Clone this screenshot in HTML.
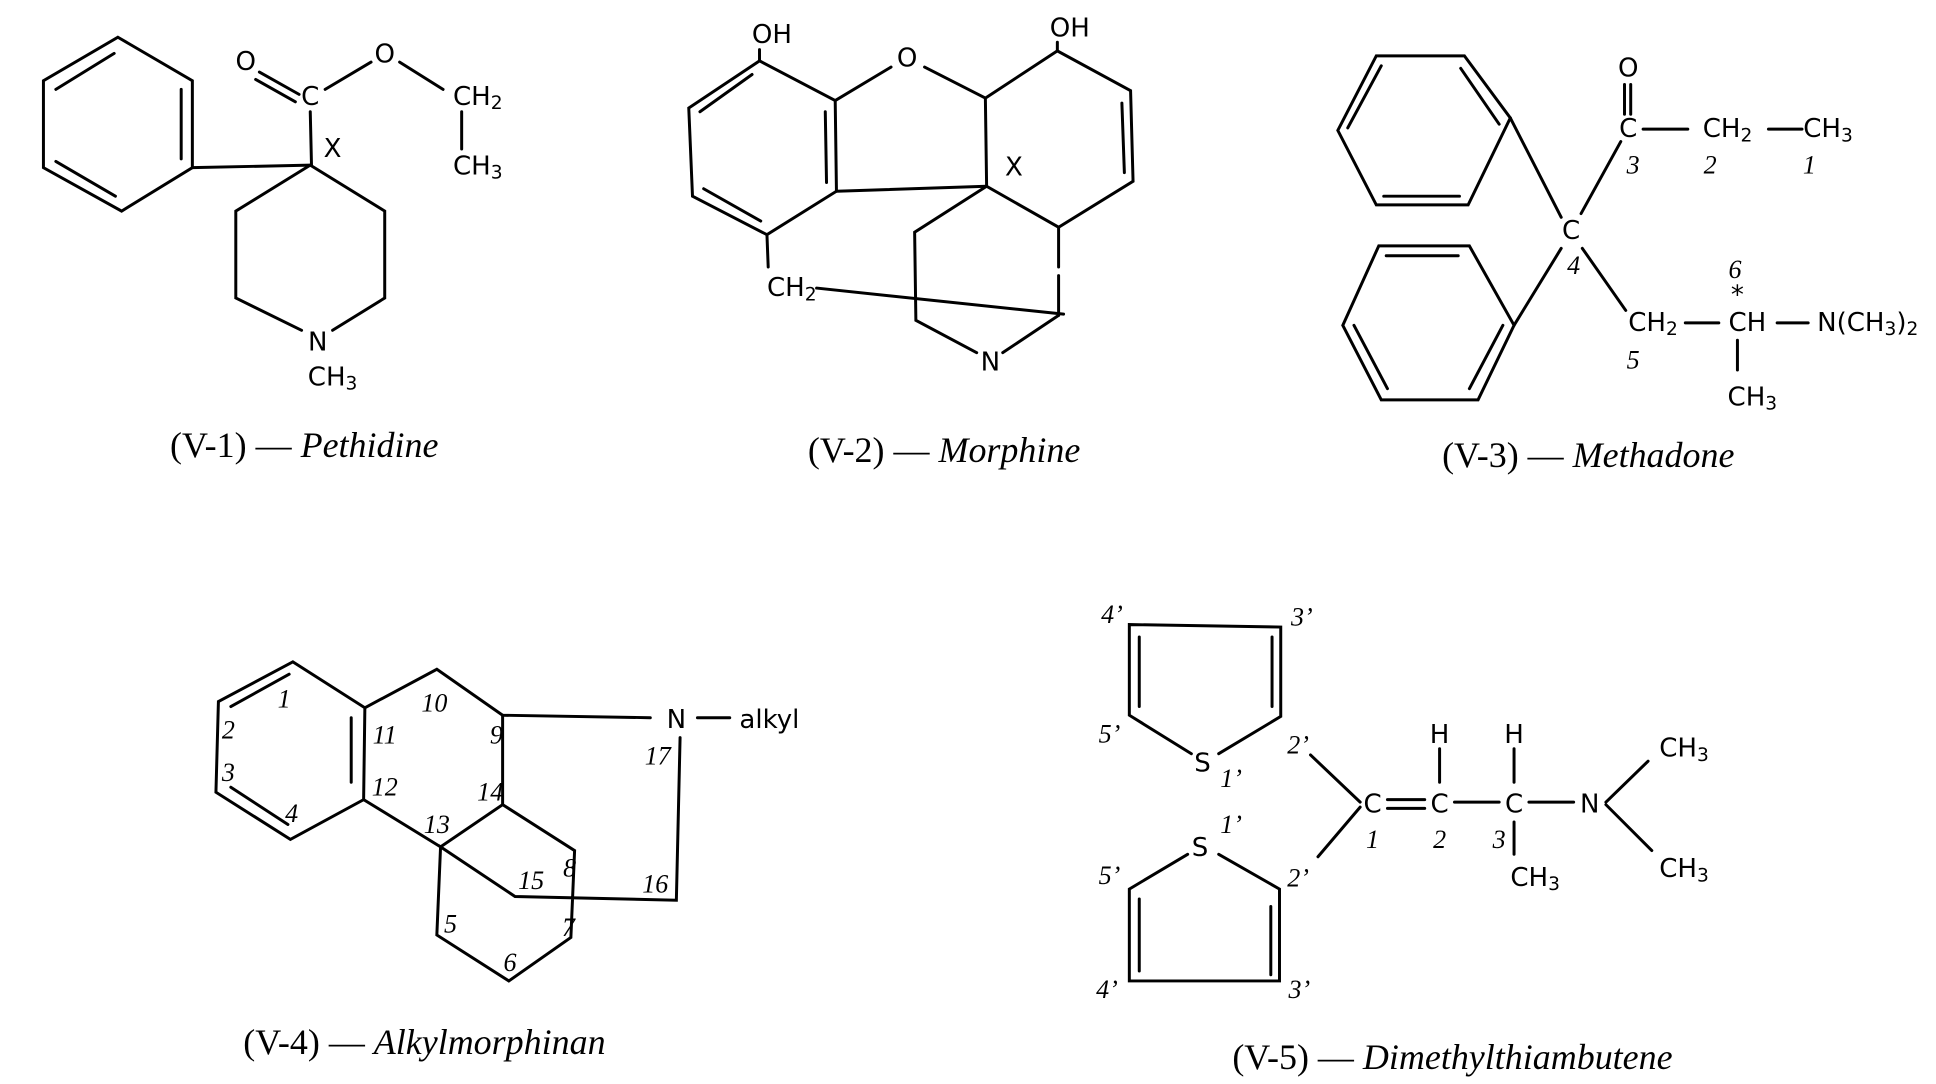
<!DOCTYPE html>
<html><head><meta charset="utf-8"><style>
html,body{margin:0;padding:0;background:#fff;}
svg{display:block}
.l{font-family:"DejaVu Sans","Liberation Sans",sans-serif;font-size:21px;fill:#000}
.n{font-family:"Liberation Serif",serif;font-style:italic;font-size:21px;fill:#000}
.c{font-family:"Liberation Serif",serif;font-size:29px;fill:#000}
.c tspan.i{font-style:italic}
</style></head><body>
<svg width="1936" height="1084" viewBox="0 0 1560 873" preserveAspectRatio="none" xmlns="http://www.w3.org/2000/svg">
<g stroke="#000" stroke-width="2.4" fill="none" stroke-linejoin="miter" stroke-linecap="round">
<!-- Pethidine -->
<polygon points="95,30 155,65 155,135 98,170 35,135 35,65"/>
<line x1="146" y1="72" x2="146" y2="128"/><line x1="45" y1="72" x2="92" y2="43"/><line x1="45" y1="130" x2="93" y2="158"/>
<line x1="155" y1="135" x2="250" y2="133"/>
<polyline points="250,133 310,170 310,240 268,266"/>
<polyline points="243,266 190,240 190,170 250,133"/>
<line x1="250" y1="90" x2="251" y2="133"/>
<line x1="209" y1="58" x2="241" y2="76"/><line x1="206" y1="64" x2="238" y2="82"/>
<line x1="262" y1="72" x2="299" y2="50"/>
<line x1="322" y1="50" x2="357" y2="72"/>
<line x1="372" y1="90" x2="372" y2="120"/>
<!-- Morphine -->
<polygon points="612,49 673,81 674,154 618,189 558,158 555,87"/>
<line x1="564" y1="90" x2="606" y2="60"/><line x1="567" y1="152" x2="613" y2="178"/><line x1="665" y1="90" x2="666" y2="147"/>
<line x1="612" y1="49" x2="612" y2="40"/>
<line x1="673" y1="81" x2="718" y2="54"/><line x1="745" y1="54" x2="794" y2="79"/>
<polyline points="794,79 852,41 911,73 913,146 853,183 795,150 794,79"/>
<line x1="852" y1="41" x2="852" y2="34"/>
<line x1="904" y1="83" x2="906" y2="139"/>
<line x1="674" y1="154" x2="795" y2="150"/>
<polyline points="795,150 737,187 738,258 787,284"/>
<line x1="808" y1="284" x2="853" y2="254"/>
<line x1="853" y1="183" x2="853" y2="215"/><line x1="853" y1="222" x2="853" y2="254"/>
<line x1="618" y1="189" x2="619" y2="215"/>
<line x1="658" y1="232" x2="857" y2="253"/>
<!-- Methadone -->
<polygon points="1109,45 1180,45 1217,95 1183,165 1109,165 1078,105"/>
<line x1="1086" y1="103" x2="1113" y2="53"/><line x1="1177" y1="55" x2="1208" y2="100"/><line x1="1115" y1="158" x2="1176" y2="158"/>
<line x1="1217" y1="95" x2="1258" y2="175"/><line x1="1274" y1="172" x2="1306" y2="114"/>
<polygon points="1111,198 1184,198 1220,262 1191,322 1113,322 1082,262"/>
<line x1="1117" y1="206" x2="1175" y2="206"/><line x1="1091" y1="262" x2="1118" y2="313"/><line x1="1211" y1="262" x2="1184" y2="313"/>
<line x1="1220" y1="262" x2="1258" y2="200"/><line x1="1275" y1="200" x2="1310" y2="250"/>
<line x1="1309" y1="68" x2="1309" y2="92"/><line x1="1314" y1="68" x2="1314" y2="92"/>
<line x1="1324" y1="104" x2="1360" y2="104"/><line x1="1425" y1="104" x2="1452" y2="104"/>
<line x1="1358" y1="260" x2="1385" y2="260"/><line x1="1432" y1="260" x2="1457" y2="260"/>
<line x1="1400" y1="274" x2="1400" y2="298"/>
<!-- Alkylmorphinan -->
<polygon points="236,533 294,570 293,644 234,676 174,638 176,565"/>
<line x1="186" y1="569" x2="233" y2="543"/><line x1="283" y1="578" x2="283" y2="630"/><line x1="186" y1="634" x2="232" y2="664"/>
<polyline points="294,570 352,539 405,576 524,578"/>
<line x1="405" y1="576" x2="405" y2="648"/>
<polyline points="293,644 355,682 405,648 463,685 460,755 410,790 352,753 355,682 415,722 545,725 548,594"/>
<line x1="562" y1="578" x2="588" y2="578"/>
<!-- Thiambutene -->
<polyline points="960,607 910,576 910,503 1032,505 1032,577 982,607"/>
<line x1="918" y1="513" x2="918" y2="569"/><line x1="1025" y1="513" x2="1025" y2="569"/>
<polyline points="957,688 910,716 910,790 1031,790 1031,716 982,688"/>
<line x1="918" y1="724" x2="918" y2="782"/><line x1="1024" y1="730" x2="1024" y2="785"/>
<line x1="1056" y1="608" x2="1096" y2="646"/><line x1="1096" y1="650" x2="1062" y2="690"/>
<line x1="1118" y1="644" x2="1148" y2="644"/><line x1="1118" y1="651" x2="1148" y2="651"/>
<line x1="1160" y1="603" x2="1160" y2="630"/><line x1="1172" y1="646" x2="1208" y2="646"/>
<line x1="1220" y1="603" x2="1220" y2="630"/><line x1="1232" y1="646" x2="1268" y2="646"/>
<line x1="1220" y1="662" x2="1220" y2="688"/>
<line x1="1294" y1="646" x2="1328" y2="613"/><line x1="1294" y1="648" x2="1331" y2="685"/>
</g>
<g text-anchor="middle" dominant-baseline="central">
<text class="l" x="198" y="50">O</text>
<text class="l" x="250" y="78">C</text>
<text class="l" x="310" y="44">O</text>
<text class="l" x="268" y="120">X</text>
<text class="l" x="256" y="276">N</text>
<text class="l" x="385" y="78">CH<tspan font-size="15" dy="5">2</tspan></text>
<text class="l" x="385" y="134">CH<tspan font-size="15" dy="5">3</tspan></text>
<text class="l" x="268" y="304">CH<tspan font-size="15" dy="5">3</tspan></text>
<text class="l" x="622" y="28">OH</text>
<text class="l" x="862" y="23">OH</text>
<text class="l" x="731" y="47">O</text>
<text class="l" x="817" y="135">X</text>
<text class="l" x="638" y="232">CH<tspan font-size="15" dy="5">2</tspan></text>
<text class="l" x="798" y="292">N</text>
<text class="l" x="1312" y="55">O</text>
<text class="l" x="1312" y="104">C</text>
<text class="l" x="1392" y="104">CH<tspan font-size="15" dy="5">2</tspan></text>
<text class="l" x="1473" y="104">CH<tspan font-size="15" dy="5">3</tspan></text>
<text class="l" x="1266" y="186">C</text>
<text class="l" x="1332" y="260">CH<tspan font-size="15" dy="5">2</tspan></text>
<text class="l" x="1408" y="260">CH</text>
<text class="l" x="1505" y="260">N(CH<tspan font-size="15" dy="5">3</tspan><tspan dy="-5">)</tspan><tspan font-size="15" dy="5">2</tspan></text>
<text class="l" x="1412" y="320">CH<tspan font-size="15" dy="5">3</tspan></text>
<text class="l" x="1400" y="238" font-size="14">*</text>
<text class="n" x="1316" y="133">3</text><text class="n" x="1378" y="133">2</text><text class="n" x="1458" y="133">1</text>
<text class="n" x="1268" y="214">4</text><text class="n" x="1316" y="290">5</text><text class="n" x="1398" y="217">6</text>
<text class="l" x="545" y="580">N</text>
<text class="l" x="620" y="580">alkyl</text>
<text class="n" x="229" y="563">1</text><text class="n" x="184" y="588">2</text><text class="n" x="184" y="622">3</text><text class="n" x="235" y="655">4</text>
<text class="n" x="350" y="566">10</text><text class="n" x="310" y="592">11</text><text class="n" x="310" y="634">12</text>
<text class="n" x="400" y="592">9</text><text class="n" x="395" y="638">14</text><text class="n" x="352" y="664">13</text>
<text class="n" x="530" y="609">17</text><text class="n" x="428" y="709">15</text><text class="n" x="459" y="699">8</text>
<text class="n" x="528" y="712">16</text><text class="n" x="363" y="744">5</text><text class="n" x="458" y="747">7</text><text class="n" x="411" y="775">6</text>
<text class="l" x="969" y="615">S</text>
<text class="l" x="967" y="683">S</text>
<text class="l" x="1106" y="648">C</text>
<text class="l" x="1160" y="648">C</text>
<text class="l" x="1160" y="592">H</text>
<text class="l" x="1220" y="648">C</text>
<text class="l" x="1220" y="592">H</text>
<text class="l" x="1281" y="648">N</text>
<text class="l" x="1237" y="707">CH<tspan font-size="15" dy="5">3</tspan></text>
<text class="l" x="1357" y="603">CH<tspan font-size="15" dy="5">3</tspan></text>
<text class="l" x="1357" y="700">CH<tspan font-size="15" dy="5">3</tspan></text>
<text class="n" x="896" y="495">4’</text><text class="n" x="1049" y="497">3’</text>
<text class="n" x="894" y="591">5’</text><text class="n" x="1046" y="600">2’</text>
<text class="n" x="992" y="627">1’</text><text class="n" x="992" y="664">1’</text>
<text class="n" x="894" y="705">5’</text><text class="n" x="1046" y="707">2’</text>
<text class="n" x="892" y="797">4’</text><text class="n" x="1047" y="797">3’</text>
<text class="n" x="1106" y="676">1</text><text class="n" x="1160" y="676">2</text><text class="n" x="1208" y="676">3</text>
</g>
<g>
<text class="c" x="137" y="368">(V-1) — <tspan class="i">Pethidine</tspan></text>
<text class="c" x="651" y="372">(V-2) — <tspan class="i">Morphine</tspan></text>
<text class="c" x="1162" y="376">(V-3) — <tspan class="i">Methadone</tspan></text>
<text class="c" x="196" y="849">(V-4) — <tspan class="i">Alkylmorphinan</tspan></text>
<text class="c" x="993" y="861">(V-5) — <tspan class="i">Dimethylthiambutene</tspan></text>
</g>
</svg>
</body></html>
